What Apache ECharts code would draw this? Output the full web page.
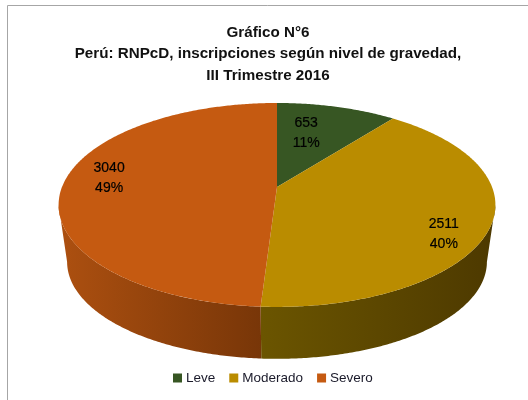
<!DOCTYPE html>
<html><head><meta charset="utf-8">
<style>html,body{margin:0;padding:0;background:#fff}#c{width:528px;height:400px}</style>
<script src="https://cdn.jsdelivr.net/npm/echarts@6/dist/echarts.min.js"></script>
</head><body><div id="c"></div>
<script>
const categories = ['Leve', 'Moderado', 'Severo'];
const values = [653, 2511, 3040];
const percents = ['11%', '40%', '49%'];
const colors = ['#375623', '#BA8C00', '#C55A11'];
const wallLeft = ['#24391a', '#6b5500', '#AD5010'];
const wallRight = ['#24391a', '#4D3900', '#783608'];
const titleText = 'Gráfico N°6\nPerú: RNPcD, inscripciones según nivel de gravedad,\nIII Trimestre 2016';

const total = values.reduce((a, b) => a + b, 0);
const CX = 277, APEX = 187, K = 215, A = 65.9, C = -0.176;
const TOP_CY = 205, LOW_CY = 262, SX = 0.961, SY = 0.95;
const labelSpots = [[0.62, 0, -10, -1], [0.78, 0, 2, 18], [0.78, 0, -1, -6]];
function proj(u, v) {
  const w = 1 + C * v;
  return [CX + K * u / w, (A * v + APEX) / w];
}
function rim(t) { return proj(Math.sin(t), -Math.cos(t)); }
function low(t) {
  const p = rim(t);
  return [CX + (p[0] - CX) * SX, LOW_CY + (p[1] - TOP_CY) * SY];
}
function arc(fn, a, b) {
  const n = Math.max(2, Math.ceil(Math.abs(b - a) / 0.01));
  const pts = [];
  for (let i = 0; i <= n; i++) pts.push(fn(a + (b - a) * i / n));
  return pts;
}
const FRONT = Math.acos(C); // angle where the rim is widest on screen
function sliceRender(idx) {
  return function (params, api) {
    const before = values.slice(0, idx).reduce((a, b) => a + b, 0);
    const a0 = before / total * 2 * Math.PI;
    const a1 = a0 + api.value(0) / total * 2 * Math.PI;
    const children = [];
    const s = Math.max(a0, FRONT), e = Math.min(a1, 2 * Math.PI - FRONT);
    if (e > s) {
      const up = arc(rim, s, e), lo = arc(low, s, e).reverse();
      const xs = up.concat(lo).map(p => p[0]);
      const x0 = Math.min(...xs), x1 = Math.max(...xs);
      children.push({
        type: 'polygon', shape: { points: up.concat(lo) },
        style: { fill: new echarts.graphic.LinearGradient(x0, 0, x1, 0, [
          { offset: 0, color: wallLeft[idx] },
          { offset: 1, color: wallRight[idx] }], true) }
      });
    }
    const pts = [proj(0, 0)].concat(arc(rim, a0, a1));
    children.push({ type: 'polygon', shape: { points: pts }, style: { fill: colors[idx] } });
    const spot = labelSpots[idx], mid = (a0 + a1) / 2 + spot[1];
    const lp = proj(Math.sin(mid) * spot[0], -Math.cos(mid) * spot[0]);
    children.push({
      type: 'text', z2: 50,
      style: {
        x: lp[0] + spot[2], y: lp[1] + spot[3],
        text: api.value(0) + '\n' + percents[idx],
        fill: '#000', align: 'center', verticalAlign: 'middle',
        stroke: '#000', lineWidth: 0.2,
        font: '14px "Liberation Sans", Arial, sans-serif', lineHeight: 20
      }
    });
    return { type: 'group', children };
  };
}
const chart = echarts.init(document.getElementById('c'), null, { renderer: 'canvas' });
chart.setOption({
  animation: false,
  backgroundColor: '#fff',
  title: {
    text: titleText, left: 263, top: 17, textAlign: 'center',
    textStyle: { fontFamily: '"Liberation Sans", Arial, sans-serif', fontWeight: 'bold', fontSize: 15.2, lineHeight: 21.5, color: '#111' }
  },
  legend: {
    data: categories, left: 173, top: 371, itemWidth: 9, itemHeight: 9, itemGap: 14, padding: 0,
    icon: 'rect',
    textStyle: { fontFamily: '"Liberation Sans", Arial, sans-serif', fontSize: 13.5, color: '#1a1a2a', padding: [0, 0, 0, -1] }
  },
  graphic: [{ type: 'polyline', silent: true, shape: { points: [[7.5, 400], [7.5, 5.5], [528, 5.5]] }, style: { stroke: '#a6a6a6', lineWidth: 1, fill: null } }],
  series: categories.map((name, i) => ({
    type: 'custom', name, coordinateSystem: 'none',
    itemStyle: { color: colors[i] },
    renderItem: sliceRender(i),
    data: [[values[i]]],
    silent: true
  }))
});
</script></body></html>
